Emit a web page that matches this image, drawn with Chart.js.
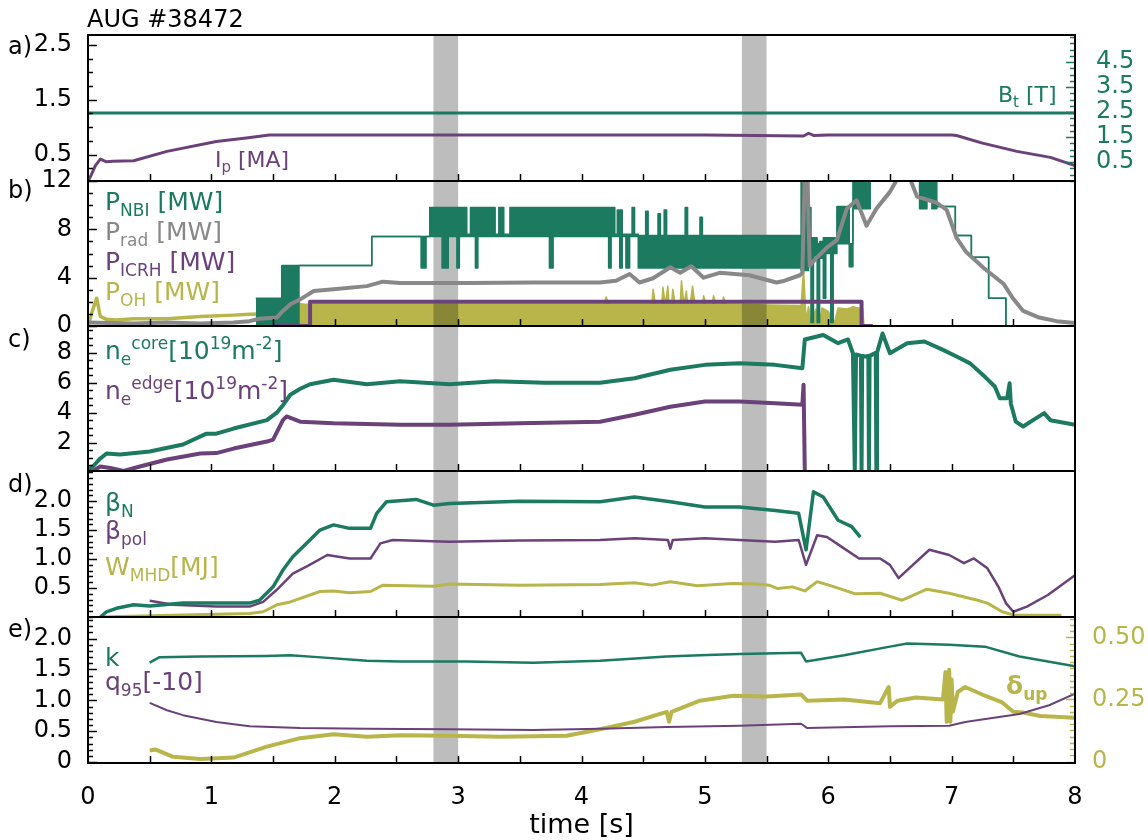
<!DOCTYPE html>
<html>
<head>
<meta charset="utf-8">
<script src="https://cdn.jsdelivr.net/npm/chart.js@4.4.0/dist/chart.umd.min.js"></script>
<style>
body { margin: 0; background: #fff; }
#wrap { position: relative; width: 1148px; height: 840px; }
#wrap canvas { position: absolute; left: 0; display: block; }
</style>
</head>
<body>
<div id="wrap">
  <canvas id="pa" width="1148" height="211" style="top:0px"></canvas>
  <canvas id="pb" width="1148" height="205" style="top:151px"></canvas>
  <canvas id="pc" width="1148" height="205" style="top:296px"></canvas>
  <canvas id="pd" width="1148" height="206" style="top:441px"></canvas>
  <canvas id="pe" width="1148" height="253" style="top:587px"></canvas>
</div>
<script>
// ---- data (time in s) ----
var xTickVals = [0, 1, 2, 3, 4, 5, 6, 7, 8];
var xTickText = ['0', '1', '2', '3', '4', '5', '6', '7', '8'];
var bandFrom = [2.8, 5.3];
var bandTo = [3.0, 5.5];

// a) plasma current and toroidal field
var ipT = [0.0, 0.02, 0.06, 0.1, 0.15, 0.2, 0.37, 0.64, 1.04, 1.3, 1.47, 2.0, 3.0, 4.0, 5.0, 5.8, 5.84, 5.88, 6.0, 6.5, 7.0, 7.04, 7.25, 7.53, 7.8, 8.0];
var ipV = [0.02, 0.1, 0.3, 0.42, 0.37, 0.38, 0.39, 0.56, 0.74, 0.81, 0.86, 0.86, 0.86, 0.86, 0.86, 0.84, 0.89, 0.85, 0.86, 0.86, 0.86, 0.85, 0.71, 0.56, 0.45, 0.3];
var btT = [0.0, 8.0];
var btV = [2.46, 2.46];

// b) heating and radiated power
var nbiT  = [1.36, 1.57, 1.71, 2.30, 2.70, 2.74, 2.77, 2.87, 2.92, 2.99, 3.01, 3.07, 3.10, 3.14, 3.16, 3.30, 3.33, 3.37, 3.42, 3.74, 3.77, 4.22, 4.24, 4.27, 4.29, 4.31, 4.33, 4.36, 4.39, 4.41, 4.43, 4.46, 4.52, 4.54, 4.62, 4.64, 4.67, 4.69, 4.84, 4.86, 4.96, 4.98, 5.78, 5.84, 5.86, 5.88, 5.91, 5.93, 5.96, 5.98, 6.02, 6.04, 6.07, 6.17, 6.20, 6.34, 6.74, 6.80, 6.84, 6.88, 7.03, 7.16, 7.30, 7.44, 7.59];
var nbiHi = [2.3, 5.0, 5.0, 7.4, 7.4, 7.4, 9.8, 9.8, 9.8, 9.8, 9.8, 7.6, 9.8, 9.8, 9.8, 7.6, 9.8, 7.6, 9.8, 9.8, 9.8, 9.8, 9.8, 7.6, 9.6, 9.6, 7.6, 7.6, 7.6, 9.8, 7.6, 7.5, 9.5, 7.5, 9.3, 7.5, 9.6, 7.5, 9.8, 7.5, 9.0, 7.5, 12.5, 9.8, 7.3, 7.3, 6.8, 7.0, 7.3, 7.3, 7.3, 7.3, 9.9, 6.8, 12.5, 12.5, 12.5, 12.5, 12.5, 9.9, 7.5, 5.7, 2.3, 0.0, 0.0];
var nbiLo = [0.0, 0.0, 5.0, 7.4, 4.8, 7.4, 7.4, 4.8, 7.4, 4.8, 7.4, 7.4, 7.4, 4.8, 7.4, 7.4, 7.4, 7.4, 7.4, 4.8, 7.4, 4.8, 7.4, 7.4, 7.4, 4.8, 7.4, 4.8, 7.4, 7.4, 7.4, 4.8, 4.8, 4.8, 4.8, 4.8, 4.8, 4.8, 4.8, 4.8, 4.8, 4.8, 4.6, 6.2, 0.3, 5.8, 0.3, 5.6, 2.3, 6.0, 0.3, 6.0, 6.8, 4.9, 9.7, 12.5, 9.7, 10.5, 9.7, 9.9, 7.5, 5.7, 2.3, 0.0, 0.0];
var radT = [0.0, 0.37, 0.64, 0.91, 1.18, 1.31, 1.39, 1.53, 1.58, 1.64, 1.72, 1.83, 1.99, 2.26, 2.39, 2.53, 3.07, 3.61, 4.15, 4.28, 4.39, 4.47, 4.58, 4.72, 4.8, 4.89, 4.99, 5.12, 5.36, 5.58, 5.63, 5.77, 5.79, 5.81, 5.83, 5.85, 5.9, 5.99, 6.07, 6.15, 6.23, 6.31, 6.39, 6.5, 6.55, 6.6, 6.67, 6.72, 6.88, 6.96, 7.04, 7.12, 7.26, 7.42, 7.5, 7.58, 7.71, 7.85, 8.0];
var radV = [0.28, 0.2, 0.28, 0.2, 0.28, 0.4, 0.6, 0.7, 1.25, 1.8, 2.2, 2.9, 3.05, 3.3, 3.67, 3.55, 3.55, 3.6, 3.6, 3.75, 4.3, 3.6, 3.95, 4.86, 4.4, 4.95, 4.0, 4.4, 4.2, 3.6, 3.7, 4.2, 4.4, 12.8, 12.8, 5.0, 5.6, 6.5, 7.1, 9.7, 10.4, 8.3, 9.7, 11.1, 12.0, 12.8, 12.0, 10.7, 10.2, 9.6, 7.3, 6.1, 4.8, 3.5, 2.25, 1.25, 0.7, 0.4, 0.25];
var icrhT = [1.5, 1.8, 6.27, 6.36];
var icrhV = [0.0, 2.0, 0.0, 0.0];
var ohLineT = [0.0, 0.04, 0.07, 0.1, 0.15, 0.23, 0.37, 0.64, 0.91, 1.18, 1.31, 1.4, 1.5, 1.58];
var ohLineV = [0.0, 1.4, 2.3, 0.8, 0.55, 0.5, 0.6, 0.6, 0.78, 0.9, 0.97, 1.0, 1.0, 1.2];
var ohT = [1.58, 1.62, 1.66, 1.7, 1.75, 2.5, 4.18, 4.2, 4.22, 4.57, 4.58, 4.6, 4.65, 4.66, 4.68, 4.7, 4.71, 4.73, 4.74, 4.76, 4.8, 4.81, 4.83, 4.85, 4.86, 4.88, 4.9, 4.92, 4.98, 4.99, 5.01, 5.06, 5.07, 5.09, 5.14, 5.15, 5.17, 5.76, 5.78, 5.8, 5.82, 5.84, 5.86, 5.9, 5.93, 5.95, 6.0, 6.05, 6.08, 6.15, 6.2, 6.28, 6.29];
var ohV = [0.0, 2.0, 1.2, 1.9, 1.8, 1.8, 1.8, 2.4, 1.8, 1.8, 3.05, 1.8, 1.8, 3.2, 1.8, 3.3, 1.8, 1.8, 3.05, 1.8, 1.8, 3.75, 1.8, 2.9, 1.8, 1.8, 3.3, 1.8, 1.8, 2.5, 1.8, 1.8, 2.5, 1.8, 1.8, 2.4, 1.8, 1.7, 1.7, 4.7, 0.5, 1.6, 0.3, 1.4, 0.4, 1.5, 1.2, 0.3, 1.5, 1.4, 1.6, 1.4, 0.0];

// c) line averaged densities
var coreT = [0.0, 0.04, 0.1, 0.15, 0.26, 0.5, 0.77, 0.96, 1.04, 1.18, 1.45, 1.53, 1.58, 1.64, 1.72, 1.8, 1.99, 2.26, 2.53, 2.93, 3.3, 3.7, 4.15, 4.43, 4.72, 5.0, 5.28, 5.57, 5.79, 5.81, 5.96, 6.08, 6.16, 6.2, 6.215, 6.225, 6.265, 6.27, 6.275, 6.3, 6.325, 6.33, 6.335, 6.385, 6.39, 6.395, 6.44, 6.5, 6.64, 6.78, 6.93, 7.04, 7.15, 7.27, 7.35, 7.39, 7.45, 7.47, 7.48, 7.52, 7.58, 7.66, 7.75, 7.8, 8.0];
var coreV = [0.2, 0.4, 0.94, 1.27, 1.2, 1.4, 1.87, 2.6, 2.6, 2.94, 3.5, 4.0, 4.5, 5.2, 5.6, 5.9, 6.2, 5.9, 6.1, 5.9, 6.1, 6.0, 6.0, 6.3, 6.87, 7.2, 7.3, 7.2, 6.97, 8.9, 9.2, 8.65, 8.9, 7.98, 0.1, 7.9, 7.8, 0.1, 7.8, 7.76, 7.8, 0.1, 7.8, 8.0, 0.1, 8.0, 9.3, 7.98, 8.65, 8.76, 8.2, 7.76, 7.3, 6.4, 5.75, 4.97, 4.97, 5.97, 4.6, 3.4, 3.08, 3.5, 3.97, 3.5, 3.2];
var edgeT = [0.0, 0.04, 0.1, 0.18, 0.29, 0.42, 0.64, 0.91, 1.04, 1.18, 1.45, 1.5, 1.58, 1.61, 1.72, 1.99, 2.53, 2.93, 3.5, 4.15, 4.43, 4.72, 5.0, 5.28, 5.57, 5.79, 5.8, 5.81, 5.86];
var edgeV = [0.05, 0.1, 0.4, 0.3, 0.1, 0.4, 0.87, 1.27, 1.3, 1.6, 2.07, 2.2, 3.5, 3.75, 3.4, 3.3, 3.2, 3.2, 3.3, 3.4, 3.86, 4.4, 4.75, 4.75, 4.64, 4.53, 5.87, 0.0, 0.0];

// d) normalised beta, poloidal beta, stored energy
var betaNT = [0.1, 0.15, 0.23, 0.37, 0.5, 0.77, 1.04, 1.31, 1.39, 1.5, 1.58, 1.66, 1.77, 1.88, 1.99, 2.12, 2.29, 2.34, 2.42, 2.66, 2.8, 2.93, 3.5, 4.15, 4.43, 4.72, 5.0, 5.28, 5.57, 5.76, 5.82, 5.88, 5.96, 6.08, 6.19, 6.26];
var betaNV = [0.0, 0.09, 0.15, 0.21, 0.19, 0.24, 0.24, 0.24, 0.29, 0.52, 0.81, 1.04, 1.27, 1.5, 1.59, 1.53, 1.53, 1.79, 1.99, 2.03, 1.93, 1.96, 2.0, 1.99, 2.07, 1.99, 1.9, 1.9, 1.84, 1.79, 1.16, 2.16, 2.07, 1.67, 1.56, 1.38];
var betaPT = [0.5, 0.69, 1.04, 1.31, 1.42, 1.53, 1.66, 1.77, 1.94, 2.12, 2.29, 2.37, 2.47, 2.93, 3.5, 4.15, 4.43, 4.7, 4.72, 4.74, 5.0, 5.28, 5.57, 5.76, 5.82, 5.91, 5.99, 6.13, 6.25, 6.42, 6.5, 6.57, 6.64, 6.82, 6.98, 7.1, 7.18, 7.29, 7.38, 7.44, 7.5, 7.61, 7.78, 8.0];
var betaPV = [0.28, 0.21, 0.18, 0.18, 0.26, 0.47, 0.75, 0.87, 1.07, 1.01, 1.01, 1.27, 1.33, 1.3, 1.32, 1.33, 1.36, 1.33, 1.18, 1.33, 1.36, 1.33, 1.3, 1.33, 0.9, 1.41, 1.38, 1.18, 1.01, 1.01, 0.9, 0.67, 0.81, 1.16, 1.07, 0.93, 1.01, 0.84, 0.52, 0.24, 0.09, 0.18, 0.38, 0.72];
var wmhdT = [0.1, 0.5, 1.31, 1.42, 1.53, 1.64, 1.88, 1.99, 2.12, 2.29, 2.39, 2.8, 2.93, 3.5, 4.15, 4.43, 4.57, 4.72, 4.94, 5.22, 5.42, 5.52, 5.59, 5.71, 5.81, 5.91, 6.05, 6.22, 6.42, 6.6, 6.8, 6.98, 7.21, 7.29, 7.41, 7.51, 7.89];
var wmhdV = [0.0, 0.02, 0.06, 0.09, 0.21, 0.26, 0.44, 0.45, 0.42, 0.44, 0.55, 0.53, 0.57, 0.55, 0.56, 0.59, 0.55, 0.61, 0.54, 0.58, 0.57, 0.55, 0.49, 0.52, 0.45, 0.61, 0.52, 0.4, 0.41, 0.29, 0.48, 0.41, 0.29, 0.24, 0.09, 0.03, 0.03];

// e) elongation, q95/10, upper triangularity
var kapT = [0.5, 0.58, 0.91, 1.45, 1.64, 1.86, 2.26, 2.53, 3.07, 3.61, 4.15, 4.69, 4.96, 5.28, 5.78, 5.82, 6.13, 6.5, 6.64, 6.98, 7.27, 7.55, 8.0];
var kapV = [1.61, 1.7, 1.71, 1.72, 1.73, 1.7, 1.64, 1.63, 1.63, 1.61, 1.64, 1.71, 1.73, 1.75, 1.77, 1.63, 1.73, 1.87, 1.92, 1.9, 1.87, 1.71, 1.55];
var q95T = [0.5, 0.64, 0.77, 1.04, 1.31, 1.72, 2.26, 2.93, 3.61, 4.15, 4.69, 5.28, 5.78, 5.83, 6.5, 6.98, 7.11, 7.55, 7.79, 8.0];
var q95V = [0.96, 0.84, 0.76, 0.65, 0.58, 0.55, 0.54, 0.53, 0.52, 0.54, 0.57, 0.59, 0.62, 0.55, 0.58, 0.59, 0.65, 0.78, 0.92, 1.11];
var deltaT = [0.5, 0.55, 0.69, 0.91, 1.18, 1.45, 1.72, 1.99, 2.26, 2.53, 2.93, 3.34, 3.88, 4.15, 4.43, 4.69, 4.71, 4.73, 4.96, 5.23, 5.5, 5.78, 5.83, 6.13, 6.42, 6.49, 6.5, 6.56, 6.71, 6.93, 6.95, 6.96, 6.98, 6.99, 7.0, 7.01, 7.05, 7.11, 7.27, 7.41, 7.5, 7.58, 7.72, 8.0];
var deltaV = [0.044, 0.048, 0.019, 0.01, 0.016, 0.06, 0.094, 0.11, 0.1, 0.106, 0.104, 0.1, 0.104, 0.13, 0.16, 0.2, 0.16, 0.2, 0.245, 0.265, 0.262, 0.27, 0.245, 0.25, 0.235, 0.3, 0.22, 0.245, 0.258, 0.25, 0.36, 0.16, 0.37, 0.16, 0.33, 0.2, 0.28, 0.3, 0.265, 0.238, 0.2, 0.197, 0.183, 0.176];

// ---- styling ----
var GREEN = '#1b7a5f';
var PURPLE = '#6a4279';
var OLIVE = '#b8b54b';
var GRAY = '#888888';
var FONT = 'DejaVu Sans';

function pts(t, v) {
  return t.map(function (x, i) { return { x: x, y: v[i] }; });
}

function line(t, v, color, width, extra) {
  return Object.assign({
    data: pts(t, v), borderColor: color, backgroundColor: color, borderWidth: width,
    pointRadius: 0, tension: 0, fill: false, clip: 0, borderJoinStyle: 'round'
  }, extra || {});
}

function yAxis(side, ax) {
  return {
    type: 'linear', position: side, min: ax.min, max: ax.max,
    afterFit: function (s) { s.width = side === 'left' ? 88 : 73; },
    afterBuildTicks: function (s) { s.ticks = ax.vals.map(function (v) { return { value: v }; }); },
    ticks: {
      autoSkip: false, padding: ax.pad || 8, color: ax.color || '#000',
      font: { family: FONT, size: 24 },
      callback: function (v) { return ax.text[ax.vals.indexOf(v)]; }
    },
    grid: { display: false }, border: { display: false }
  };
}

function rich(ctx, x, y, parts, size, color, bold) {
  ctx.fillStyle = color;
  ctx.textAlign = 'left';
  ctx.textBaseline = 'alphabetic';
  parts.forEach(function (p) {
    var small = p.sub || p.sup;
    var fs = small ? Math.round(size * 0.66) : size;
    ctx.font = (bold ? 'bold ' : '') + fs + 'px "' + FONT + '"';
    var dy = p.sub ? size * 0.24 : (p.sup ? -size * 0.42 : 0);
    ctx.fillText(p.t, x, y + dy);
    x += ctx.measureText(p.t).width;
  });
}

function drawBands(chart, color) {
  var ctx = chart.ctx, a = chart.chartArea, xs = chart.scales.x;
  ctx.save();
  ctx.fillStyle = color;
  for (var i = 0; i < bandFrom.length; i++) {
    var x0 = xs.getPixelForValue(bandFrom[i]), x1 = xs.getPixelForValue(bandTo[i]);
    ctx.fillRect(x0, a.top, x1 - x0, a.bottom - a.top);
  }
  ctx.restore();
}

function drawYTicks(chart, scale, ax, side) {
  var ctx = chart.ctx, a = chart.chartArea;
  ctx.save();
  ctx.strokeStyle = ax.color || '#000';
  ctx.lineWidth = 1.5;
  var i0 = Math.ceil(scale.min / ax.minor - 1e-6), i1 = Math.floor(scale.max / ax.minor + 1e-6);
  for (var i = i0; i <= i1; i++) {
    var v = i * ax.minor;
    var y = Math.round(scale.getPixelForValue(v)) + 0.5;
    var major = ax.vals.some(function (m) { return Math.abs(m - v) < 1e-6; });
    var len = major ? 9 : 5;
    ctx.beginPath();
    if (side === 'left') { ctx.moveTo(a.left, y); ctx.lineTo(a.left + len, y); }
    else { ctx.moveTo(a.right, y); ctx.lineTo(a.right - len, y); }
    ctx.stroke();
  }
  ctx.restore();
}

function makeDeco(cfg) {
  return {
    id: 'deco',
    beforeDatasetsDraw: function (chart) {
      if (cfg.bandAfter === undefined) drawBands(chart, '#bdbdbd');
    },
    afterDatasetDraw: function (chart, args) {
      if (cfg.bandAfter === args.index) drawBands(chart, 'rgba(0,0,0,0.26)');
    },
    afterDraw: function (chart) {
      var ctx = chart.ctx, a = chart.chartArea, xs = chart.scales.x;
      ctx.save();
      // x ticks at the bottom edge, pointing in
      ctx.strokeStyle = '#000';
      ctx.lineWidth = 1.5;
      for (var i = 1; i < 16; i++) {
        var px = Math.round(xs.getPixelForValue(i * 0.5)) + 0.5;
        ctx.beginPath(); ctx.moveTo(px, a.bottom); ctx.lineTo(px, a.bottom - 7); ctx.stroke();
      }
      drawYTicks(chart, chart.scales.y, cfg.left, 'left');
      if (cfg.right) drawYTicks(chart, chart.scales.y2, cfg.right, 'right');
      ctx.strokeStyle = '#000';
      ctx.lineWidth = 2;
      ctx.strokeRect(a.left, a.top, a.right - a.left, a.bottom - a.top);
      // panel letter
      ctx.fillStyle = '#000';
      ctx.font = '24px "' + FONT + '"';
      ctx.textAlign = 'left';
      ctx.textBaseline = 'middle';
      ctx.fillText(cfg.letter, 8, cfg.letterY - cfg.top);
      (cfg.labels || []).forEach(function (l) {
        rich(ctx, l.x, l.y - cfg.top, l.parts, l.size, l.color, l.bold);
      });
      ctx.restore();
    }
  };
}

function panel(id, cfg) {
  var scales = {
    x: { type: 'linear', min: 0, max: 8, display: false },
    y: yAxis('left', cfg.left)
  };
  if (cfg.right) scales.y2 = yAxis('right', cfg.right);
  if (cfg.xAxis) {
    scales.x = {
      type: 'linear', min: 0, max: 8, display: true, position: 'bottom',
      afterFit: function (s) { s.height = 77; },
      afterBuildTicks: function (s) { s.ticks = xTickVals.map(function (v) { return { value: v }; }); },
      ticks: {
        autoSkip: false, maxRotation: 0, padding: 12, color: '#000',
        font: { family: FONT, size: 24 },
        callback: function (v) { return xTickText[xTickVals.indexOf(v)]; }
      },
      grid: { display: false }, border: { display: false },
      title: { display: true, text: 'time [s]', color: '#000', font: { family: FONT, size: 27 }, padding: { top: 0, bottom: -2 } }
    };
  }
  return new Chart(document.getElementById(id), {
    type: 'line',
    data: { datasets: cfg.datasets },
    options: {
      responsive: false, animation: false, events: [],
      layout: { padding: { top: cfg.padTop, bottom: cfg.padBottom, left: 0, right: cfg.right ? 0 : 73 } },
      scales: scales,
      plugins: { legend: { display: false }, tooltip: { enabled: false } }
    },
    plugins: [makeDeco(cfg)]
  });
}

// a)
panel('pa', {
  top: 0, padTop: 35, padBottom: 30, letter: 'a)', letterY: 48,
  left: { min: 0.02, max: 2.68, vals: [0.5, 1.5, 2.5], text: ['0.5', '1.5', '2.5'], minor: 0.25 },
  right: { min: -0.26, max: 5.58, vals: [0.5, 1.5, 2.5, 3.5, 4.5], text: ['0.5', '1.5', '2.5', '3.5', '4.5'], minor: 0.25, color: GREEN, pad: 13 },
  datasets: [
    line(ipT, ipV, PURPLE, 3),
    line(btT, btV, GREEN, 3, { yAxisID: 'y2' })
  ],
  labels: [
    { x: 87, y: 27, size: 24, color: '#000', parts: [{ t: 'AUG #38472' }] },
    { x: 215, y: 167, size: 22, color: PURPLE, parts: [{ t: 'I' }, { t: 'p', sub: 1 }, { t: ' [MA]' }] },
    { x: 998, y: 102, size: 22, color: GREEN, parts: [{ t: 'B' }, { t: 't', sub: 1 }, { t: ' [T]' }] }
  ]
});

// b)
panel('pb', {
  top: 151, padTop: 30, padBottom: 30, letter: 'b)', letterY: 192, bandAfter: 0,
  left: { min: 0, max: 12, vals: [0, 4, 8, 12], text: ['0', '4', '8', '12'], minor: 1 },
  datasets: [
    line(ohT, ohV, OLIVE, 1.5, { fill: 'origin', order: 5 }),
    line(ohLineT, ohLineV, OLIVE, 3.5, { order: 5 }),
    line(nbiT, nbiHi, GREEN, 1.5, { stepped: true, fill: '+1', order: 3 }),
    line(nbiT, nbiLo, GREEN, 1.5, { stepped: true, order: 3 }),
    line(icrhT, icrhV, PURPLE, 4, { stepped: true, order: 2 }),
    line(radT, radV, GRAY, 4, { order: 1 })
  ],
  labels: [
    { x: 105, y: 210, size: 25, color: GREEN, parts: [{ t: 'P' }, { t: 'NBI', sub: 1 }, { t: ' [MW]' }] },
    { x: 105, y: 240, size: 25, color: GRAY, parts: [{ t: 'P' }, { t: 'rad', sub: 1 }, { t: ' [MW]' }] },
    { x: 105, y: 270, size: 25, color: PURPLE, parts: [{ t: 'P' }, { t: 'ICRH', sub: 1 }, { t: ' [MW]' }] },
    { x: 105, y: 300, size: 25, color: OLIVE, parts: [{ t: 'P' }, { t: 'OH', sub: 1 }, { t: ' [MW]' }] }
  ]
});

// c)
panel('pc', {
  top: 296, padTop: 30, padBottom: 30, letter: 'c)', letterY: 341,
  left: { min: 0.1, max: 9.8, vals: [2, 4, 6, 8], text: ['2', '4', '6', '8'], minor: 0.5 },
  datasets: [
    line(edgeT, edgeV, PURPLE, 4),
    line(coreT, coreV, GREEN, 4)
  ],
  labels: [
    { x: 105, y: 359, size: 25, color: GREEN, parts: [{ t: 'n' }, { t: 'e', sub: 1 }, { t: 'core', sup: 1 }, { t: '[10' }, { t: '19', sup: 1 }, { t: 'm' }, { t: '-2', sup: 1 }, { t: ']' }] },
    { x: 105, y: 399, size: 25, color: PURPLE, parts: [{ t: 'n' }, { t: 'e', sub: 1 }, { t: 'edge', sup: 1 }, { t: '[10' }, { t: '19', sup: 1 }, { t: 'm' }, { t: '-2', sup: 1 }, { t: ']' }] }
  ]
});

// d)
panel('pd', {
  top: 441, padTop: 30, padBottom: 30, letter: 'd)', letterY: 486,
  left: { min: 0, max: 2.52, vals: [0.5, 1, 1.5, 2], text: ['0.5', '1.0', '1.5', '2.0'], minor: 0.1 },
  datasets: [
    line(betaNT, betaNV, GREEN, 3.5),
    line(betaPT, betaPV, PURPLE, 2.5),
    line(wmhdT, wmhdV, OLIVE, 3)
  ],
  labels: [
    { x: 105, y: 511, size: 25, color: GREEN, parts: [{ t: 'β' }, { t: 'N', sub: 1 }] },
    { x: 105, y: 539, size: 25, color: PURPLE, parts: [{ t: 'β' }, { t: 'pol', sub: 1 }] },
    { x: 105, y: 575, size: 25, color: OLIVE, parts: [{ t: 'W' }, { t: 'MHD', sub: 1 }, { t: '[MJ]' }] }
  ]
});

// e)
panel('pe', {
  top: 587, padTop: 30, padBottom: 0, letter: 'e)', letterY: 631, xAxis: true,
  left: { min: -0.015, max: 2.35, vals: [0, 0.5, 1, 1.5, 2], text: ['0', '0.5', '1.0', '1.5', '2.0'], minor: 0.1 },
  right: { min: -0.006, max: 0.582, vals: [0, 0.25, 0.5], text: ['0', '0.25', '0.50'], minor: 0.025, color: OLIVE, pad: 9 },
  datasets: [
    line(kapT, kapV, GREEN, 2.5),
    line(q95T, q95V, PURPLE, 2),
    line(deltaT, deltaV, OLIVE, 4, { yAxisID: 'y2' })
  ],
  labels: [
    { x: 105, y: 666, size: 25, color: GREEN, parts: [{ t: 'k' }] },
    { x: 105, y: 690, size: 25, color: PURPLE, parts: [{ t: 'q' }, { t: '95', sub: 1 }, { t: '[-10]' }] },
    { x: 1006, y: 694, size: 25, color: OLIVE, bold: true, parts: [{ t: 'δ' }, { t: 'up', sub: 1 }] }
  ]
});
</script>
</body>
</html>
